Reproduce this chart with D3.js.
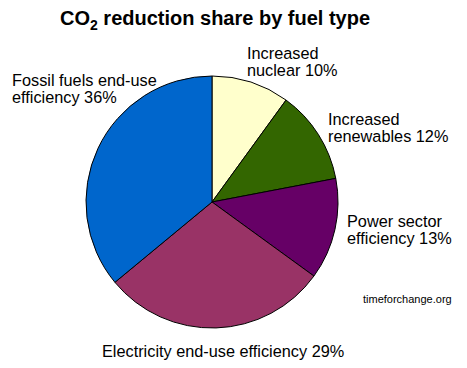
<!DOCTYPE html>
<meta charset="utf-8">
<script src="https://d3js.org/d3.v7.min.js"></script>
<style>
  body { margin: 0; background: #fff; }
  text { font-family: "Liberation Sans", Arial, sans-serif; }
</style>
<div id="my_dataviz"></div>
<script>
// slices, clockwise from 12 o'clock
var names = ["Increased nuclear", "Increased renewables", "Power sector efficiency",
             "Electricity end-use efficiency", "Fossil fuels end-use efficiency"];
var values = [10, 12, 13, 29, 36];
var colors = ["#FFFFCC", "#336600", "#660066", "#993366", "#0066CC"];

// label lines, one array per slice
var labelLines = [
  ["Increased", "nuclear 10%"],
  ["Increased", "renewables 12%"],
  ["Power sector", "efficiency 13%"],
  ["Electricity end-use efficiency 29%"],
  ["Fossil fuels end-use", "efficiency 36%"]
];
var labelPos = [[247, 59], [328, 125], [347, 227], [102, 357], [12, 86]];

var width = 467, height = 368;
var cx = 212, cy = 202, radius = 126;

var svg = d3.select("#my_dataviz")
  .append("svg")
  .attr("width", width)
  .attr("height", height);

// title with subscript 2
var title = svg.append("text")
  .attr("x", 60)
  .attr("y", 25)
  .style("font-size", "20px")
  .style("font-weight", "bold");
title.append("tspan").text("CO");
title.append("tspan").attr("dy", 5).style("font-size", "14px").text("2");
title.append("tspan").attr("dy", -5).text(" reduction share by fuel type");

var data = names.map(function (n, i) { return { name: n, value: values[i], color: colors[i] }; });

var pie = d3.pie().sort(null).value(function (d) { return d.value; });
var arc = d3.arc().innerRadius(0).outerRadius(radius);

svg.append("g")
  .attr("transform", "translate(" + cx + "," + cy + ")")
  .selectAll("path")
  .data(pie(data))
  .enter()
  .append("path")
  .attr("d", arc)
  .attr("fill", function (d) { return d.data.color; })
  .attr("stroke", "#000")
  .attr("stroke-width", 1);

// labels
labelLines.forEach(function (lines, i) {
  var t = svg.append("text")
    .attr("x", labelPos[i][0])
    .attr("y", labelPos[i][1])
    .style("font-size", "16.3px")
    .attr("fill", "#000");
  lines.forEach(function (l, j) {
    t.append("tspan")
      .attr("x", labelPos[i][0])
      .attr("dy", j === 0 ? 0 : 17)
      .text(l);
  });
});

svg.append("text")
  .attr("x", 363)
  .attr("y", 303)
  .style("font-size", "11px")
  .text("timeforchange.org");
</script>
